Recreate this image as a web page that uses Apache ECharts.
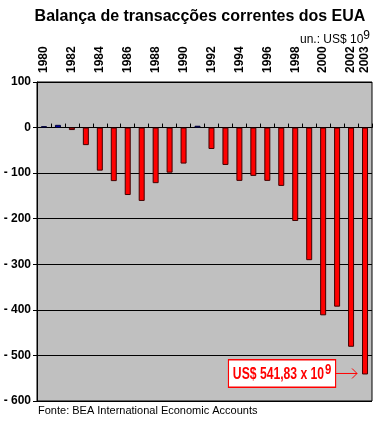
<!DOCTYPE html>
<html>
<head>
<meta charset="utf-8">
<script src="https://cdn.jsdelivr.net/npm/echarts@6/dist/echarts.min.js"></script>
<style>
  html, body { margin: 0; padding: 0; background: #fff; }
  #chart { width: 376px; height: 421px; }
</style>
</head>
<body>
<div id="chart"></div>
<script>
// anos 1980-2003
const years = ['1980','1981','1982','1983','1984','1985','1986','1987','1988','1989','1990','1991',
               '1992','1993','1994','1995','1996','1997','1998','1999','2000','2001','2002','2003'];
// saldo em mil milhões de US$
const balance = [3, 6, -5.5, -38.5, -94.5, -117.5, -148, -161, -122, -99, -79, 4,
                 -47, -82, -117, -106, -117, -128, -205, -291, -412, -393, -481, -541.8];
const yTicks = [-600, -500, -400, -300, -200, -100, 0, 100];

const chart = echarts.init(document.getElementById('chart'), null, { renderer: 'canvas' });

// positivos a azul, negativos a vermelho
const barData = balance.map(v => ({
    value: v,
    itemStyle: v >= 0
        ? { color: '#0000ee', borderColor: '#000033' }
        : { color: '#ff0000', borderColor: '#400000' }
}));

const option = {
    animation: false,
    backgroundColor: '#ffffff',
    textStyle: { fontFamily: 'Liberation Sans, Arial, sans-serif' },
    title: [
        {
            text: 'Balança de transacções correntes dos EUA',
            left: 200, top: 9, textAlign: 'center', padding: 0,
            textStyle: { fontSize: 16, fontWeight: 'bold', color: '#000' }
        },
        {
            text: 'un.: US$ 10{s|9}',
            right: 6, top: 30, padding: 0,
            textStyle: {
                fontSize: 12, fontWeight: 'normal', color: '#000',
                rich: { s: { fontSize: 12, verticalAlign: 'top', padding: [0, 0, 8, 0] } }
            }
        },
        {
            text: 'Fonte: BEA International Economic Accounts',
            left: 38, top: 405, padding: 0,
            textStyle: { fontSize: 11, fontWeight: 'normal', color: '#000' }
        }
    ],
    grid: { left: 37, right: 4, top: 82, bottom: 20, show: true, backgroundColor: '#c0c0c0', borderColor: '#000', borderWidth: 1 },
    xAxis: {
        type: 'category',
        position: 'top',
        data: years,
        boundaryGap: true,
        axisLine: { show: true, lineStyle: { color: '#000', width: 1 } },
        axisTick: { show: true, interval: 0, length: 4, lineStyle: { color: '#000' } },
        axisLabel: {
            interval: function (i) { return i % 2 === 0 || i === years.length - 1; },
            rotate: 90, margin: 9,
            fontSize: 12, fontWeight: 'bold', color: '#000'
        },
        splitLine: { show: false }
    },
    yAxis: {
        type: 'value',
        min: yTicks[0], max: yTicks[yTicks.length - 1], interval: 100,
        axisLine: { show: true, lineStyle: { color: '#000', width: 1 } },
        axisTick: { show: true, length: 4, lineStyle: { color: '#000' } },
        axisLabel: {
            margin: 6, fontSize: 12, fontWeight: 'bold', color: '#000',
            formatter: function (v) { return v < 0 ? '- ' + (-v) : String(v); }
        },
        splitLine: { show: true, lineStyle: { color: '#000', width: 1 } }
    },
    series: [{
        type: 'bar',
        data: barData,
        barWidth: 6,
        itemStyle: { borderWidth: 1 }
    }]
};

chart.setOption(option);

// anotação do valor de 2003
const last = balance.length - 1;
const tip = chart.convertToPixel({ gridIndex: 0 }, [last, balance[last]]);
const arrowEnd = tip[0] - 8;
const arrowStart = arrowEnd - 22;
const ay = tip[1] - 1;
chart.setOption({
    graphic: [
        {
            type: 'text',
            x: arrowStart, y: ay,
            scaleX: 0.76,
            style: {
                x: 0, y: 0,
                align: 'right', verticalAlign: 'middle',
                text: '{a|US$ 541,83 x 10}{s|9}',
                backgroundColor: '#fff',
                borderColor: '#ff0000',
                borderWidth: 1.5,
                padding: [2, 5, 0, 5],
                rich: {
                    a: { fontFamily: 'Liberation Sans, Arial', fontSize: 16, fontWeight: 'bold', fill: '#ff0000', color: '#ff0000' },
                    s: { fontFamily: 'Liberation Sans, Arial', fontSize: 15, fontWeight: 'bold', fill: '#ff0000', color: '#ff0000', verticalAlign: 'top', padding: [0, 0, 9, 1] }
                }
            }
        },
        {
            type: 'group',
            children: [
                { type: 'line', shape: { x1: arrowStart, y1: ay, x2: arrowEnd, y2: ay }, style: { stroke: '#ff0000', lineWidth: 1 } },
                { type: 'polyline', shape: { points: [[arrowEnd - 5, ay - 5], [arrowEnd, ay], [arrowEnd - 5, ay + 5]] }, style: { stroke: '#ff0000', lineWidth: 1, fill: null } }
            ]
        }
    ]
});
</script>
</body>
</html>
